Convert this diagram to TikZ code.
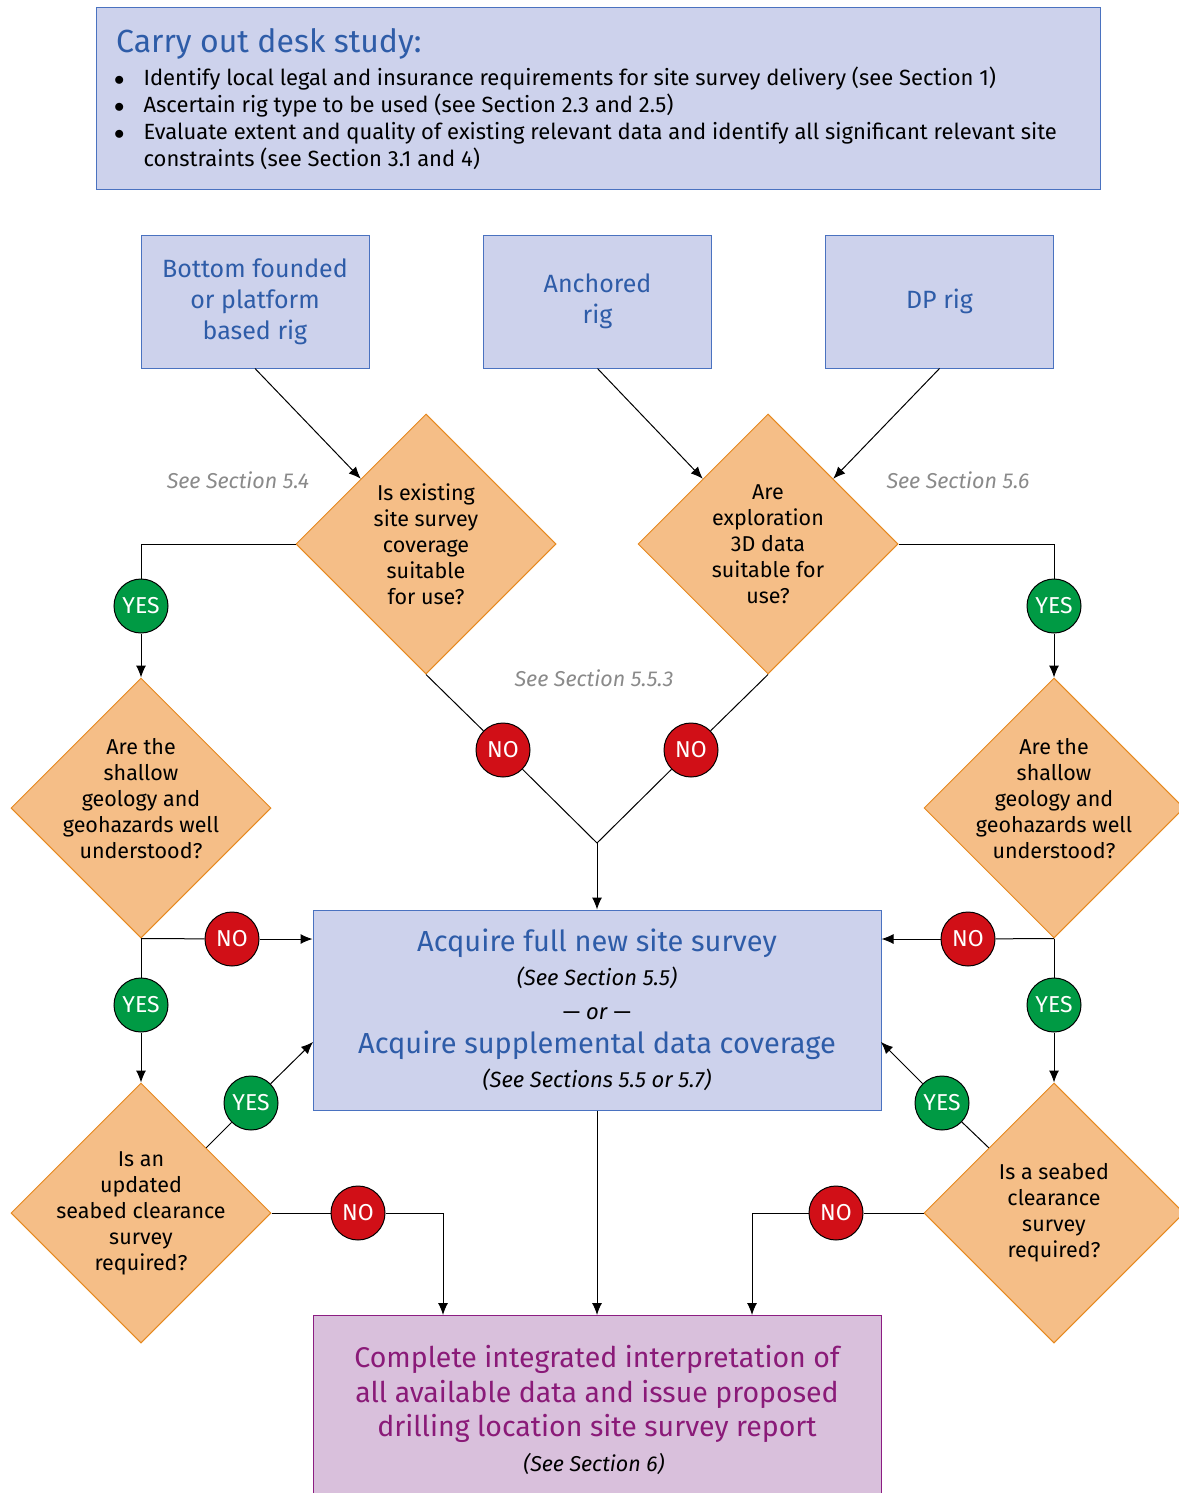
\documentclass[tikz,border=0pt]{standalone}
\usepackage{fontspec}
\setmainfont{Fira Sans}
\usetikzlibrary{arrows.meta,positioning,shapes.geometric}

\definecolor{boxfill}{HTML}{CDD2EC}
\definecolor{boxdraw}{HTML}{4A72C0}
\definecolor{titleblue}{HTML}{2E5CA8}
\definecolor{diafill}{HTML}{F5BE87}
\definecolor{diadraw}{HTML}{E6891F}
\definecolor{yesgreen}{HTML}{009A44}
\definecolor{nored}{HTML}{D10F17}
\definecolor{endfill}{HTML}{D9C0DC}
\definecolor{enddraw}{HTML}{8C1D82}
\definecolor{endtext}{HTML}{8A1A78}
\definecolor{seegray}{HTML}{8A8A8A}

\begin{document}
\begin{tikzpicture}[
  x=1pt, y=-1pt,
  >=Latex,
  deskbox/.style={rectangle, draw=boxdraw, fill=boxfill, line width=1pt, minimum width=1004pt, minimum height=182pt},
  rigbox/.style={rectangle, draw=boxdraw, fill=boxfill, line width=1pt, minimum width=228pt, minimum height=133pt, align=center, text=titleblue, font=\fontsize{25}{31}\selectfont},
  actbox/.style={rectangle, draw=boxdraw, fill=boxfill, line width=1pt, minimum width=568pt, minimum height=200pt, align=center, font=\fontsize{22}{34}\selectfont},
  endbox/.style={rectangle, draw=enddraw, fill=endfill, line width=1pt, minimum width=568pt, minimum height=190pt, align=center, text=endtext},
  decision/.style={diamond, draw=diadraw, fill=diafill, aspect=1, line width=1pt, minimum width=260pt, minimum height=260pt, inner sep=-35pt, align=center, font=\fontsize{21.5}{26}\selectfont},
  yesdot/.style={circle, draw, fill=yesgreen, line width=1pt, minimum size=54pt, inner sep=0pt, text=white, font=\fontsize{23}{23}\selectfont},
  nodot/.style={yesdot, fill=nored},
  see/.style={text=seegray, font=\fontsize{21.5}{24}\selectfont\itshape},
  line/.style={draw, line width=1pt, -{Latex[length=12pt, width=10pt]}},
  plain/.style={draw, line width=1pt}
]
\useasboundingbox (0,0) rectangle (1178,1493);

% desk study
\node[deskbox, anchor=north west] (desk) at (96,7) {};
\node[anchor=base west, inner sep=0pt, text=titleblue, font=\fontsize{32}{36}\selectfont] (desktitle) at (116,53) {Carry out desk study:};
\node[anchor=north west, inner sep=0pt, font=\fontsize{22}{27}\selectfont] (desklist) at (114,66) {%
  \begin{tabular}{@{}c@{\hspace{19pt}}l@{}}
  $\bullet$ & Identify local legal and insurance requirements for site survey delivery (see Section 1)\\
  $\bullet$ & Ascertain rig type to be used (see Section 2.3 and 2.5)\\
  $\bullet$ & Evaluate extent and quality of existing relevant data and identify all significant relevant site\\
            & constraints (see Section 3.1 and 4)
  \end{tabular}};

% rig types
\node[rigbox] (bfr) at (255,301.5) {Bottom founded\\or platform\\based rig};
\node[rigbox] (anc) at (597.5,301.5) {Anchored\\rig};
\node[rigbox] (dp) at (939.5,301.5) {DP rig};

% questions
\node[decision] (q1) at (426,544) {Is existing\\site survey\\coverage\\suitable\\for use?};
\node[decision] (q2) at (768,544) {Are\\exploration\\3D data\\suitable for\\use?};
\node[decision, text depth=20pt] (q3) at (141,808) {Are the\\shallow\\geology and\\geohazards well\\understood?};
\node[decision, text depth=20pt] (q4) at (1054,808) {Are the\\shallow\\geology and\\geohazards well\\understood?};
\node[decision] (q5) at (141,1213) {Is an\\updated\\seabed clearance\\survey\\required?};
\node[decision] (q6) at (1054,1213) {Is a seabed\\clearance\\survey\\required?};

\node[see] (see1) at (238,480) {See Section 5.4};
\node[see] (see2) at (958,480) {See Section 5.6};
\node[see] (see3) at (594,678) {See Section 5.5.3};

% outcomes
\node[actbox] (acq) at (597,1010) {%
  {\fontsize{29}{34}\selectfont\color{titleblue}Acquire full new site survey}\\
  {\itshape (See Section 5.5)}\\
  --- \textit{or} ---\\
  {\fontsize{29}{34}\selectfont\color{titleblue}Acquire supplemental data coverage}\\
  {\itshape (See Sections 5.5 or 5.7)}};
\node[endbox, anchor=north] (fin) at (597,1315) {};
\node[text=endtext, align=center, font=\fontsize{28.5}{34.5}\selectfont] (fintext) at (597,1394) {Complete integrated interpretation of\\all available data and issue proposed\\drilling location site survey report};
\node[font=\fontsize{21.5}{24}\selectfont\itshape] (finsee) at (594,1464) {(See Section 6)};

% answers
\node[yesdot] (y1) at (141,606) {YES};
\node[yesdot] (y2) at (1054,606) {YES};
\node[nodot] (n1) at (503,750) {NO};
\node[nodot] (n2) at (691,750) {NO};
\node[nodot] (n3) at (232,939) {NO};
\node[yesdot] (y3) at (141,1005) {YES};
\node[nodot] (n4) at (968,939) {NO};
\node[yesdot] (y4) at (1054,1005) {YES};
\node[yesdot] (y5) at (251,1103) {YES};
\node[yesdot] (y6) at (942,1103) {YES};
\node[nodot] (n5) at (358,1213) {NO};
\node[nodot] (n6) at (836,1213) {NO};

\coordinate (join) at (597,843);
\coordinate (acqin5) at (313,1042);
\coordinate (acqin6) at (881,1042);

\path[line] (bfr.south) -- (q1.north west);
\path[line] (anc.south) -- (q2.north west);
\path[line] (dp.south) -- (q2.north east);

\path[plain] (q1.west) -| (y1.north);
\path[line] (y1) -- (q3);
\path[plain] (q2.east) -| (y2.north);
\path[line] (y2) -- (q4);

\path[plain] (q1.south) -- (n1);
\path[plain] (n1) -- (join);
\path[plain] (q2.south) -- (n2);
\path[plain] (n2) -- (join);
\path[line] (join) -- (acq.north);

\path[plain] (q3.south) -- (n3);
\path[line] (n3) -- (n3 -| acq.west);
\path[plain] (q3.south) -- (y3);
\path[line] (y3) -- (q5);
\path[plain] (q4.south) -- (n4);
\path[line] (n4) -- (n4 -| acq.east);
\path[plain] (q4.south) -- (y4);
\path[line] (y4) -- (q6);

\path[plain] (q5.north east) -- (y5);
\path[line] (y5) -- (acqin5);
\path[plain] (q6.north west) -- (y6);
\path[line] (y6) -- (acqin6);

\path[plain] (q5.east) -- (n5);
\path[line] (n5) -| ([xshift=-154pt]fin.north);
\path[plain] (q6.west) -- (n6);
\path[line] (n6) -| ([xshift=155pt]fin.north);

\path[line] (acq) -- (fin);

\end{tikzpicture}
\end{document}
